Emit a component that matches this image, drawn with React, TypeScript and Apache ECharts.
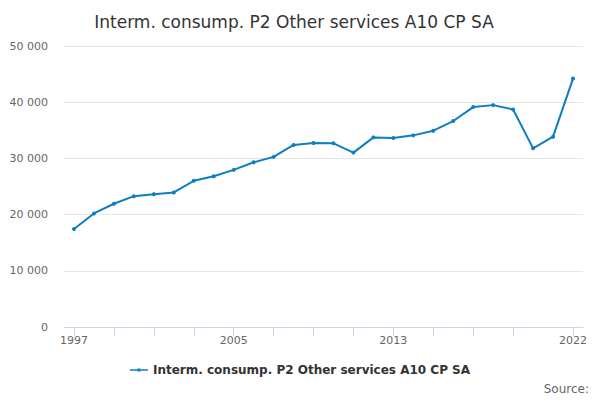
import React, { useEffect, useRef } from "react";
import * as echarts from "echarts";

const years = [
  "1997", "1998", "1999", "2000", "2001", "2002", "2003", "2004", "2005", "2006",
  "2007", "2008", "2009", "2010", "2011", "2012", "2013", "2014", "2015", "2016",
  "2017", "2018", "2019", "2020", "2021", "2022",
];
const values = [
  17430, 20210, 21930, 23280, 23640, 23940, 26010, 26830, 27960, 29310,
  30270, 32390, 32750, 32680, 31030, 33740, 33630, 34100, 34930, 36650,
  39130, 39480, 38710, 31790, 33870, 44200,
];
const seriesName = "Interm. consump. P2 Other services A10 CP SA";
const titleText = "Interm. consump. P2 Other services A10 CP SA";
const sourceText = "Source:";

const FONT = "DejaVu Sans";

export default function App() {
  const ref = useRef<HTMLDivElement>(null);
  useEffect(() => {
    if (!ref.current) return;
    const chart = echarts.init(ref.current, undefined, { renderer: "svg" });
    const last = years.length - 1;
    chart.setOption({
      animation: false,
      title: {
        text: titleText,
        left: 289,
        textAlign: "center",
        top: 8,
        textStyle: { fontFamily: FONT, fontSize: 17, fontWeight: "normal", color: "#333333" },
      },
      legend: {
        bottom: 19,
        left: "center",
        itemWidth: 18,
        itemHeight: 8,
        icon: "path://M0,3.3 L18,3.3 L18,4.7 L0,4.7 Z M7.5,2.5 L10.5,2.5 L10.5,5.5 L7.5,5.5 Z",
        textStyle: { fontFamily: FONT, fontSize: 12, fontWeight: "bold", color: "#333333" },
        data: [seriesName],
      },
      graphic: [
        {
          type: "text",
          right: 11,
          top: 383,
          style: { text: sourceText, fontFamily: FONT, fontSize: 12, fill: "#666666" },
        },
      ],
      grid: { left: 64, right: 17, top: 46, bottom: 73 },
      xAxis: {
        type: "category",
        data: years,
        boundaryGap: true,
        axisLine: { lineStyle: { color: "#ccd6eb" } },
        axisTick: {
          show: true,
          alignWithLabel: true,
          length: 9,
          lineStyle: { color: "#ccd6eb", width: 1 },
          interval: (i: number) => (i % 2 === 0 && i < 24) || i === last,
        },
        axisLabel: {
          interval: (i: number) => (i % 8 === 0 && i < 24) || i === last,
          fontFamily: FONT,
          fontSize: 11,
          color: "#666666",
          margin: 8,
        },
      },
      yAxis: {
        type: "value",
        min: 0,
        max: 50000,
        interval: 10000,
        axisLine: { show: false },
        axisTick: { show: false },
        splitLine: { lineStyle: { color: "#e6e6e6" } },
        axisLabel: {
          fontFamily: FONT,
          fontSize: 11,
          color: "#666666",
          margin: 16,
          formatter: (v: number) => (v >= 1000 ? `${Math.floor(v / 1000)} ${String(v % 1000).padStart(3, "0")}` : String(v)),
        },
      },
      series: [
        {
          name: seriesName,
          type: "line",
          data: values,
          symbol: "circle",
          symbolSize: 4,
          lineStyle: { color: "#0f7dc2", width: 2 },
          itemStyle: { color: "#0f7dc2" },
        },
      ],
    });
    return () => chart.dispose();
  }, []);
  return <div ref={ref} style={{ position: "absolute", left: 0, top: 0, width: 600, height: 400 }} />;
}
